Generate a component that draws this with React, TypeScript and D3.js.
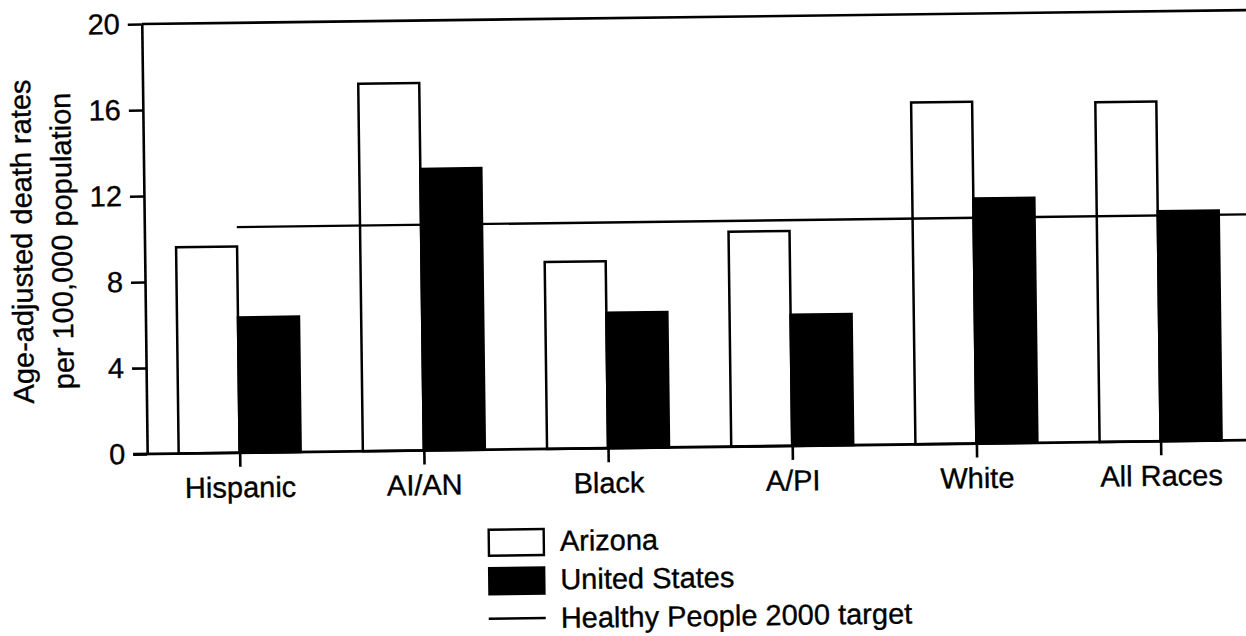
import React, { useEffect, useRef } from 'react';
import * as d3 from 'd3';

const categories = ['Hispanic', 'AI/AN', 'Black', 'A/PI', 'White', 'All Races'];
const seriesNames = ['Arizona', 'United States'];
const arizona = [9.6, 17.1, 8.7, 10.0, 15.9, 15.8];
const unitedStates = [6.3, 13.1, 6.3, 6.1, 11.4, 10.7];
const target = 10.5;
const yTicks = [0, 4, 8, 12, 16, 20];
const yLabel = ['Age-adjusted death rates', 'per 100,000 population'];
const legendLabels = ['Arizona', 'United States', 'Healthy People 2000 target'];

const W = 1246;
const H = 636;
const FONT = '"Liberation Sans", Arial, Helvetica, sans-serif';

const App = (): React.ReactElement => {
  const ref = useRef<SVGSVGElement>(null);

  useEffect(() => {
    if (!ref.current) return;
    const svg = d3.select(ref.current);
    svg.selectAll('*').remove();

    // scanned page is tilted a little
    const root = svg.append('g').attr('transform', `rotate(-0.72 ${W / 2} ${H / 2})`);

    const left = 145.5;
    const right = 1252;
    const y = d3.scaleLinear().domain([0, 20]).range([448, 18]);
    const x = d3.scalePoint<string>().domain(categories).range([238, 1159]);
    const inner = d3.scaleBand<string>().domain(seriesNames).range([-61, 61]).padding(0);

    const rows = categories.map((c, i) => ({ cat: c, values: [arizona[i], unitedStates[i]] }));

    const styleText = (sel: any) =>
      sel
        .attr('font-size', 29)
        .attr('font-family', FONT)
        .attr('fill', '#000')
        .attr('stroke', '#000')
        .attr('stroke-width', 0.35);

    // bars
    const groups = root
      .append('g')
      .selectAll('g')
      .data(rows)
      .join('g')
      .attr('transform', (d) => `translate(${x(d.cat)},0)`);

    groups
      .selectAll('rect')
      .data((d) => d.values.map((v, j) => ({ v, s: seriesNames[j] })))
      .join('rect')
      .attr('x', (d) => inner(d.s) as number)
      .attr('y', (d) => y(d.v))
      .attr('width', inner.bandwidth())
      .attr('height', (d) => y(0) - y(d.v))
      .attr('fill', (d) => (d.s === 'Arizona' ? '#fff' : '#000'))
      .attr('stroke', '#000')
      .attr('stroke-width', 2.5);

    // target line
    root
      .append('line')
      .attr('x1', x('Hispanic') as number)
      .attr('x2', right)
      .attr('y1', y(target))
      .attr('y2', y(target))
      .attr('stroke', '#000')
      .attr('stroke-width', 2.4);

    // frame top
    root
      .append('line')
      .attr('x1', left)
      .attr('x2', right)
      .attr('y1', y(20))
      .attr('y2', y(20))
      .attr('stroke', '#000')
      .attr('stroke-width', 2.6);

    // y axis
    const yAxis = root
      .append('g')
      .attr('transform', `translate(${left},0)`)
      .call(d3.axisLeft(y).tickValues(yTicks).tickSize(14).tickSizeOuter(0).tickPadding(8));
    yAxis.select('.domain').attr('stroke-width', 2.6);
    yAxis.selectAll('.tick line').attr('stroke-width', 2.6);
    styleText(yAxis.selectAll('.tick text'));

    // x axis
    root
      .append('line')
      .attr('x1', left - 14)
      .attr('x2', right)
      .attr('y1', y(0))
      .attr('y2', y(0))
      .attr('stroke', '#000')
      .attr('stroke-width', 2.8);
    const xAxis = root
      .append('g')
      .attr('transform', `translate(0,${y(0)})`)
      .call(d3.axisBottom(x).tickSize(14).tickSizeOuter(0).tickPadding(10));
    xAxis.select('.domain').remove();
    xAxis.selectAll('.tick line').attr('stroke-width', 2.6);
    styleText(xAxis.selectAll('.tick text'));

    // y label
    styleText(
      root
        .append('g')
        .selectAll('text')
        .data(yLabel)
        .join('text')
        .attr('transform', (_, i) => `translate(${33 + i * 40},234) rotate(-90)`)
        .attr('text-anchor', 'middle')
        .text((d) => d),
    );

    // legend
    const lg = root.append('g').attr('transform', 'translate(485,527)');
    const item = lg
      .selectAll('g')
      .data(legendLabels)
      .join('g')
      .attr('transform', (_, i) => `translate(0,${i * 38.5})`);
    item.each(function (d, i) {
      const g = d3.select(this);
      if (i < 2) {
        g.append('rect')
          .attr('x', 1)
          .attr('y', 1)
          .attr('width', 55)
          .attr('height', 26)
          .attr('fill', i === 0 ? '#fff' : '#000')
          .attr('stroke', '#000')
          .attr('stroke-width', 2.4);
      } else {
        g.append('line')
          .attr('x1', 0)
          .attr('x2', 57)
          .attr('y1', 13)
          .attr('y2', 13)
          .attr('stroke', '#000')
          .attr('stroke-width', 2.4);
      }
      styleText(g.append('text').attr('x', 72).attr('y', 23).text(d));
    });
  }, []);

  return (
    <svg
      ref={ref}
      width={W}
      height={H}
      style={{ position: 'absolute', left: 0, top: 0, background: '#fff' }}
    />
  );
};

export default App;
